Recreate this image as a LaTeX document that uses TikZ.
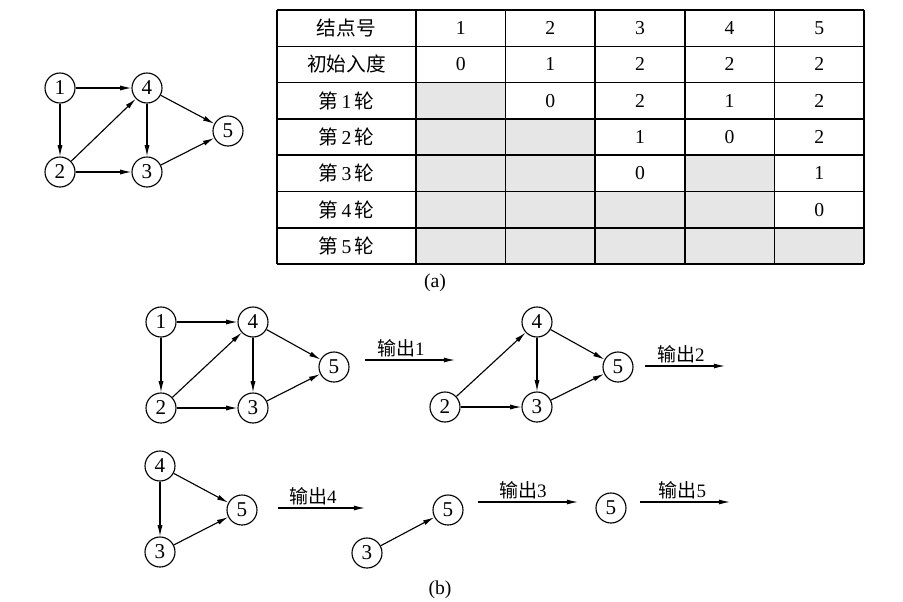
\documentclass[tikz,border=0pt]{standalone}
\usepackage{fontspec}
\setmainfont{Liberation Serif}
\newfontfamily\cjk{Noto Sans CJK SC}
\usepackage{tikz}
\usetikzlibrary{arrows.meta}
\definecolor{cellgrey}{HTML}{E6E6E6}
\newcommand{\lun}[1]{{\cjk 第}\,#1\,{\cjk 轮}}
\newcommand{\outp}[1]{{\cjk 输出}#1}

\begin{document}
\begin{tikzpicture}[x=0.025cm,y=-0.025cm,
		vtx/.style={circle,draw,line width=0.8pt,inner sep=0pt,minimum size=0.75cm,font=\fontsize{15}{17}\selectfont},
		arr/.style={line width=0.8pt,-{Latex[length=8pt,width=3.6pt]}},
		cell/.style={font=\fontsize{14}{16}\selectfont},
		lab/.style={above,inner sep=2pt,font=\fontsize{13.5}{16}\selectfont}]
		\useasboundingbox (0,0) rectangle (903,601);
		% graph in (a)
		\begin{scope}
			\node[vtx] (a1) at (60,88) {1};
			\node[vtx] (a4) at (147,88) {4};
			\node[vtx] (a5) at (228,131) {5};
			\node[vtx] (a2) at (60,172) {2};
			\node[vtx] (a3) at (147,172) {3};
			\draw[arr] (a1) -- (a4);
			\draw[arr] (a1) -- (a2);
			\draw[arr] (a2) -- (a4);
			\draw[arr] (a2) -- (a3);
			\draw[arr] (a4) -- (a3);
			\draw[arr] (a4) -- (a5);
			\draw[arr] (a3) -- (a5);
		\end{scope}
		% table in (a)
		\begin{scope}
			\foreach \r/\c in {2/1,3/1,3/2,4/1,4/2,4/4,5/1,5/2,5/3,5/4,6/1,6/2,6/3,6/4,6/5}
			\fill[cellgrey] ({416+89.6*(\c-1)},{10+36.29*\r}) rectangle ++(89.6,36.29);
			\foreach \r in {0,...,7}
			\draw[line width=1.1pt] (277,{10+36.29*\r}) -- (864,{10+36.29*\r});
			\draw[line width=1.1pt] (277,10) -- (277,264);
			\foreach \c in {0,...,5}
			\draw[line width=1.1pt] ({416+89.6*\c},10) -- ({416+89.6*\c},264);
			\foreach \r/\t in {0/{\cjk 结点号},1/{\cjk 初始入度},2/\lun{1},3/\lun{2},4/\lun{3},5/\lun{4},6/\lun{5}}
			\node[cell] (t\r0) at (346.5,{10+36.29*(\r+0.5)}) {\t};
			\foreach \r/\c/\v in {0/1/1,0/2/2,0/3/3,0/4/4,0/5/5,
				1/1/0,1/2/1,1/3/2,1/4/2,1/5/2,
				2/2/0,2/3/2,2/4/1,2/5/2,
				3/3/1,3/4/0,3/5/2,
				4/3/0,4/5/1,
				5/5/0}
			\node[cell] (t\r\c) at ({416+89.6*(\c-0.5)},{10+36.29*(\r+0.5)}) {\v};
			\node[cell] (capa) at (435,283) {(a)};
		\end{scope}
		% steps in (b)
		\begin{scope}
			\node[vtx] (p1) at (161,322) {1};
			\node[vtx] (p4) at (253,322) {4};
			\node[vtx] (p5) at (334,367) {5};
			\node[vtx] (p2) at (161,408) {2};
			\node[vtx] (p3) at (253,408) {3};
			\draw[arr] (p1) -- (p4);
			\draw[arr] (p1) -- (p2);
			\draw[arr] (p2) -- (p4);
			\draw[arr] (p2) -- (p3);
			\draw[arr] (p4) -- (p3);
			\draw[arr] (p4) -- (p5);
			\draw[arr] (p3) -- (p5);
			\coordinate (o1s) at (365,360);
			\coordinate (o1e) at (455,360);
			\draw[arr] (o1s) -- node[lab,pos=0.4] (l1) {\outp{1}} (o1e);

			\node[vtx] (q4) at (537,322) {4};
			\node[vtx] (q5) at (618,367) {5};
			\node[vtx] (q2) at (445,407) {2};
			\node[vtx] (q3) at (537,407) {3};
			\draw[arr] (q2) -- (q4);
			\draw[arr] (q2) -- (q3);
			\draw[arr] (q4) -- (q3);
			\draw[arr] (q4) -- (q5);
			\draw[arr] (q3) -- (q5);
			\coordinate (o2s) at (645,366);
			\coordinate (o2e) at (725,366);
			\draw[arr] (o2s) -- node[lab,pos=0.45] (l2) {\outp{2}} (o2e);

			\node[vtx] (r4) at (160,466) {4};
			\node[vtx] (r5) at (242,510) {5};
			\node[vtx] (r3) at (160,552) {3};
			\draw[arr] (r4) -- (r3);
			\draw[arr] (r4) -- (r5);
			\draw[arr] (r3) -- (r5);
			\coordinate (o4s) at (278,508);
			\coordinate (o4e) at (365,508);
			\draw[arr] (o4s) -- node[lab,pos=0.4] (l4) {\outp{4}} (o4e);

			\node[vtx] (s5) at (448,510) {5};
			\node[vtx] (s3) at (367,553) {3};
			\draw[arr] (s3) -- (s5);
			\coordinate (o3s) at (478,502);
			\coordinate (o3e) at (578,502);
			\draw[arr] (o3s) -- node[lab,pos=0.45] (l3) {\outp{3}} (o3e);

			\node[vtx] (u5) at (611,508) {5};
			\coordinate (o5s) at (640,502);
			\coordinate (o5e) at (730,502);
			\draw[arr] (o5s) -- node[lab,pos=0.47] (l5) {\outp{5}} (o5e);

			\node[cell] (capb) at (440,590) {(b)};
		\end{scope}
	\end{tikzpicture}
\end{document}
